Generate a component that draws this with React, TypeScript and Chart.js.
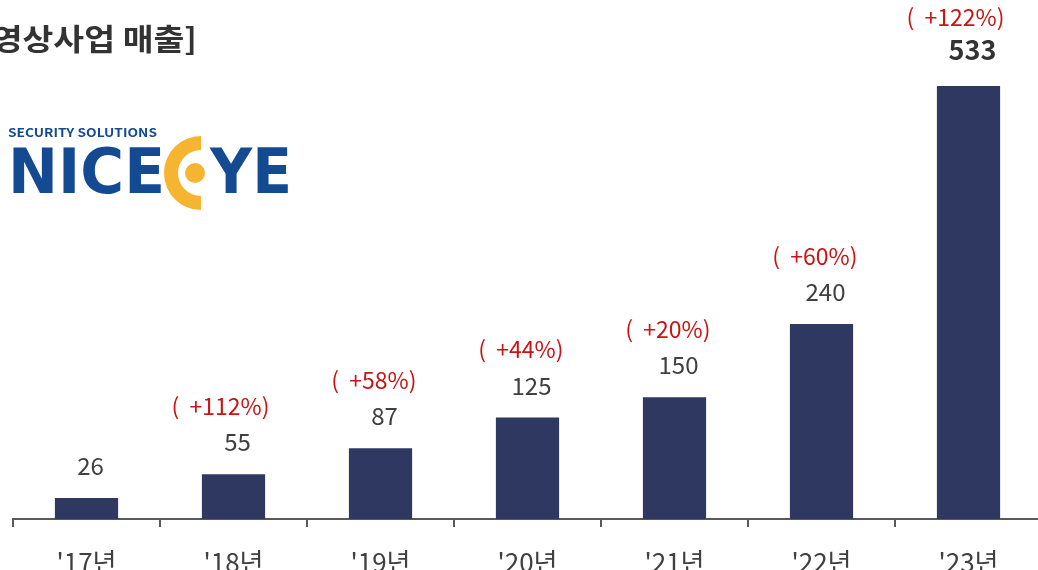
import React, { useEffect, useRef } from "react";
import { Chart, registerables } from "chart.js";

Chart.register(...registerables);

const categories = ["'17년", "'18년", "'19년", "'20년", "'21년", "'22년", "'23년"];
const revenue = [26, 55, 87, 125, 150, 240, 533];
const growth: (number | null)[] = [null, 112, 58, 44, 20, 60, 122];
const titleText = "[영상사업 매출]";
const logoSmall = "SECURITY SOLUTIONS";
const logoLeft = "NICE";
const logoRight = "YE";

const FONT = "'Noto Sans CJK KR', 'Noto Sans', sans-serif";
const LOGO_FONT = "'DejaVu Sans', sans-serif";

const fitText = (ctx: CanvasRenderingContext2D, text: string, x: number, y: number, w: number) => {
  const m = ctx.measureText(text).width;
  ctx.save();
  ctx.translate(x, y);
  ctx.scale(w / m, 1);
  ctx.textAlign = "left";
  ctx.fillText(text, 0, 0);
  ctx.restore();
};

const decorPlugin = {
  id: "decor",
  afterDraw(chart: any) {
    const ctx: CanvasRenderingContext2D = chart.ctx;
    ctx.save();
    // title (partly cut off at the left edge, as in the reference)
    ctx.fillStyle = "#333333";
    ctx.font = `bold 30px ${FONT}`;
    ctx.textBaseline = "middle";
    fitText(ctx, titleText, -21, 39, 218);

    // logo
    const blue = "#134a92";
    const yellow = "#f6b531";
    ctx.fillStyle = blue;
    ctx.textBaseline = "alphabetic";
    ctx.font = `600 12px ${FONT}`;
    fitText(ctx, logoSmall, 8, 137, 149);
    ctx.font = `bold 62px ${LOGO_FONT}`;
    fitText(ctx, logoLeft, 8, 193, 157);
    fitText(ctx, logoRight, 210, 193, 82);
    ctx.fillStyle = yellow;
    ctx.beginPath();
    ctx.arc(201, 173, 37, Math.PI / 2, (3 * Math.PI) / 2, false);
    ctx.arc(201, 173, 23, (3 * Math.PI) / 2, Math.PI / 2, true);
    ctx.closePath();
    ctx.fill();
    ctx.beginPath();
    ctx.arc(195, 173, 10, 0, Math.PI * 2);
    ctx.fill();

    // value and growth labels
    const meta = chart.getDatasetMeta(0);
    meta.data.forEach((bar: any, i: number) => {
      const last = i === revenue.length - 1;
      ctx.textBaseline = "middle";
      ctx.textAlign = "center";
      ctx.fillStyle = last ? "#333333" : "#404040";
      ctx.font = last ? `bold 27px ${FONT}` : `24px ${FONT}`;
      ctx.fillText(String(revenue[i]), bar.x + 4, bar.y - (last ? 36 : 32));
      const g = growth[i];
      if (g !== null) {
        ctx.fillStyle = "#c81414";
        ctx.font = `23px ${FONT}`;
        ctx.textAlign = "right";
        ctx.fillText(`(  +${g}%)`, bar.x + 36, bar.y - (last ? 69 : 68));
      }
    });
    ctx.restore();
  },
};

export default function App() {
  const ref = useRef<HTMLCanvasElement | null>(null);
  useEffect(() => {
    if (!ref.current) return;
    const chart = new Chart(ref.current, {
      type: "bar",
      data: {
        labels: categories,
        datasets: [
          {
            data: revenue,
            backgroundColor: "#2f3861",
            categoryPercentage: 0.43,
            barPercentage: 1,
          },
        ],
      },
      options: {
        responsive: false,
        animation: false,
        devicePixelRatio: 1,
        layout: { padding: { left: 13, right: 18, top: 0, bottom: 11 } },
        plugins: { legend: { display: false }, tooltip: { enabled: false } },
        scales: {
          x: {
            offset: true,
            grid: {
              offset: true,
              drawOnChartArea: false,
              drawTicks: true,
              tickLength: 8,
              color: "#595959",
              lineWidth: 2,
            },
            border: { display: true, color: "#595959", width: 2 },
            ticks: {
              color: "#404040",
              font: { family: FONT, size: 26 },
              padding: 20,
              maxRotation: 0,
              autoSkip: false,
            },
            afterFit: (scale: any) => {
              scale.height = 60;
            },
          },
          y: { display: false, min: 0, max: 639 },
        },
      },
      plugins: [decorPlugin],
    });
    return () => chart.destroy();
  }, []);
  return (
    <div
      style={{
        position: "fixed",
        left: 0,
        top: 0,
        width: 1038,
        height: 570,
        overflow: "hidden",
        background: "#ffffff",
      }}
    >
      <canvas ref={ref} width={1060} height={590} style={{ display: "block", width: 1060, height: 590 }} />
    </div>
  );
}
